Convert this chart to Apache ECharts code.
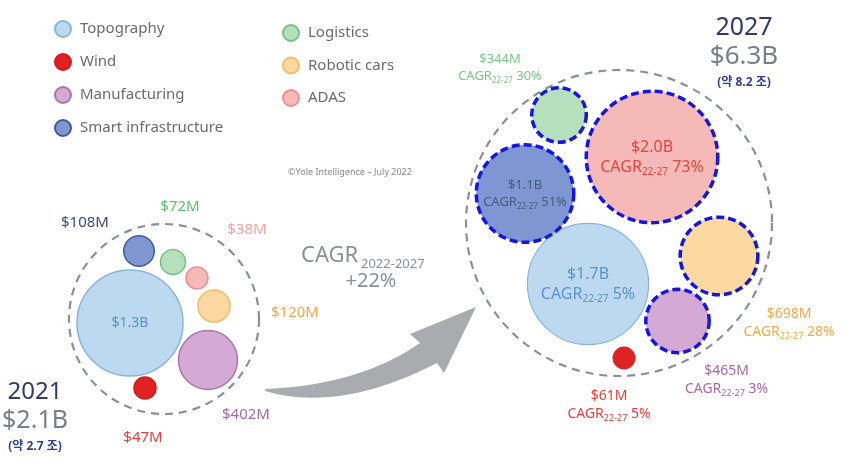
<!DOCTYPE html>
<html><head><meta charset="utf-8">
<script src="https://cdn.jsdelivr.net/npm/echarts@6/dist/echarts.min.js"></script>
<style>html,body{margin:0;padding:0;background:#fff}#c{width:849px;height:466px}</style>
</head><body><div id="c"></div><script>
// ---- data ----
const categories = ['Topography','Wind','Manufacturing','Smart infrastructure','Logistics','Robotic cars','ADAS'];
const years = ['2021','2027'];
const values2021 = [1300, 47, 402, 108, 72, 120, 38];      // $M
const values2027 = [1700, 61, 465, 1100, 344, 698, 2000];  // $M
const cagr2227 = [5, 5, 3, 51, 30, 28, 73];                // %
const totalsB = [2.1, 6.3];
const totalsKrwJo = [2.7, 8.2];
const cagrTotal = 22;
const cagrPeriod = '2022-2027';
const cagrSub = '22-27';
const sourceNote = '©Yole Intelligence – July 2022';

// packed-bubble layout (layout units)
const layoutX2021 = [13.0, 14.5, 20.8, 13.9, 17.3, 21.4, 19.7];
const layoutY2021 = [32.3, 38.8, 36.0, 25.1, 26.2, 30.6, 27.8];
const layoutX2027 = [58.8, 62.4, 67.75, 52.5, 55.9, 71.9, 65.2];
const layoutY2027 = [28.4, 35.8, 32.1, 19.35, 11.5, 25.6, 15.7];
const clusterX = [16.4, 61.9];
const clusterY = [31.9, 22.3];

// ---- styles ----
const FONT = "'Noto Sans','Noto Sans CJK KR',sans-serif";
const fills = ['#bdd9f0','#e02222','#d4a9d4','#7e97d2','#b6e0bc','#fcd9a1','#f5b9b8'];
const borders = ['#86b6df','#d81818','#ab76ab','#43599a','#74c382','#f5bb66','#ec8f8f'];
const textColors2021 = ['#5b93cb','#e2423f','#a46aab','#3c4a7c','#5cc06f','#f4aa45','#f4a3a1'];
const textColors2027 = ['#5b93cb','#e2423f','#a46aab','#4b587a','#79c888','#f4aa45','#e2463f'];
const labelOff2021 = [[0,0],[-2,50],[38,55],[-54,-28],[7,-55],[81,7],[50,-48]];
const labelOff2027 = [[0,0],[-15,47],[49,59],[0,0],[-59,-47],[70,67],[0,0]];
const labelSize2021 = [14,15,15,15,15,15,15];
const labelSize2027 = [16,14,14,13,13,14,16];
const dashed2027 = [false,false,true,true,true,true,true];
const clusterSizes = [190, 306];

function radius(v){ return Math.max(11, 1.47*Math.sqrt(v)); }
function fmt(v){ return v >= 1000 ? '$' + (v/1000).toFixed(1) + 'B' : '$' + v + 'M'; }

const series = categories.map((name, i) => {
  const fs = labelSize2027[i];
  const col = textColors2027[i];
  const rich = {
    v: {fontSize: fs, color: col, fontFamily: FONT, lineHeight: fs + 4, align: 'center'},
    c: {fontSize: fs, color: col, fontFamily: FONT, lineHeight: fs + 4},
    s: {fontSize: Math.round(fs*0.62), color: col, fontFamily: FONT, lineHeight: 5, verticalAlign: 'bottom'}
  };
  const item2027Style = dashed2027[i]
    ? {borderColor: '#1414e6', borderWidth: 3.5, borderType: [8, 4]}
    : {borderWidth: i === 0 ? 1.2 : 0};
  return {
    type: 'scatter', name, z: 3,
    symbol: 'circle',
    symbolSize: (val) => 2*radius(val[2]),
    itemStyle: {color: fills[i], borderColor: borders[i], borderWidth: 1.5, opacity: 1},
    emphasis: {disabled: true},
    data: [
      {
        value: [layoutX2021[i], layoutY2021[i], values2021[i]],
        label: {show: true, position: 'inside', offset: labelOff2021[i],
          formatter: fmt(values2021[i]), color: textColors2021[i], fontSize: labelSize2021[i], fontFamily: FONT}
      },
      {
        value: [layoutX2027[i], layoutY2027[i], values2027[i]],
        itemStyle: item2027Style,
        label: {show: true, position: 'inside', offset: labelOff2027[i], align: 'center',
          formatter: '{v|' + fmt(values2027[i]) + '}\n{c|CAGR}{s|' + cagrSub + '}{c| ' + cagr2227[i] + '%}',
          rich}
      }
    ]
  };
});

series.unshift({
  type: 'scatter', name: 'clusters', silent: true, z: 1,
  symbol: 'circle',
  itemStyle: {color: 'rgba(0,0,0,0)', borderColor: '#8b9096', borderWidth: 2.2, borderType: [8, 6], opacity: 1},
  data: clusterX.map((x, k) => ({value: [x, clusterY[k]], symbolSize: clusterSizes[k]}))
});

// arrow outline (decorative)
function qb(p0, c, p2, n){ const pts=[]; for(let k=0;k<=n;k++){const t=k/n,u=1-t; pts.push([u*u*p0[0]+2*u*t*c[0]+t*t*p2[0], u*u*p0[1]+2*u*t*c[1]+t*t*p2[1]]);} return pts; }
const arrowPts = [].concat(
  qb([265,389],[360,385],[420,343],20),
  [[410,334],[476,307],[444,373]],
  qb([437,363],[340,413],[265,391],20)
);

const totalCenters = [35, 744];
const totalTops = [392, 28];
const yearSizes = [24, 25];
const graphic = [
  {type: 'polygon', shape: {points: arrowPts}, style: {fill: '#a9abae'}, z: 0},
  {type: 'text', x: 350, y: 172, style: {text: sourceNote, fill: '#8a8a8a', fontSize: 9, fontFamily: FONT, align: 'center', verticalAlign: 'middle'}},
  {type: 'text', x: 301, y: 256, style: {text: 'CAGR', fill: '#8c9095', fontSize: 22, fontFamily: FONT, align: 'left', verticalAlign: 'middle'}},
  {type: 'text', x: 361, y: 264, style: {text: cagrPeriod, fill: '#8c9095', fontSize: 13, fontFamily: FONT, align: 'left', verticalAlign: 'middle'}},
  {type: 'text', x: 371, y: 281, style: {text: '+' + cagrTotal + '%', fill: '#8c9095', fontSize: 20, fontFamily: FONT, align: 'center', verticalAlign: 'middle'}}
];
years.forEach((y, k) => {
  const cx = totalCenters[k], ty = totalTops[k];
  graphic.push({type: 'text', x: cx, y: ty, style: {text: y, fill: '#2e3b6b', fontSize: yearSizes[k], fontFamily: FONT, align: 'center', verticalAlign: 'middle'}});
  graphic.push({type: 'text', x: cx, y: ty + 29, style: {text: '$' + totalsB[k].toFixed(1) + 'B', fill: '#7b7e82', fontSize: yearSizes[k] + 1, fontFamily: FONT, align: 'center', verticalAlign: 'middle'}});
  graphic.push({type: 'text', x: cx, y: ty + 55, style: {text: '(약 ' + totalsKrwJo[k].toFixed(1) + ' 조)', fill: '#2f3f8f', fontSize: 12, fontWeight: 'bold', fontFamily: FONT, align: 'center', verticalAlign: 'middle'}});
});

const legendCommon = {
  orient: 'vertical', padding: 0, icon: 'circle', itemWidth: 16, itemHeight: 16,
  selectedMode: false,
  textStyle: {color: '#6b6b6b', fontSize: 15, fontFamily: FONT, padding: [0, 0, 0, 4]}
};

const chart = echarts.init(document.getElementById('c'), null, {renderer: 'canvas'});
chart.setOption({
  animation: false,
  backgroundColor: '#ffffff',
  grid: {left: 0, right: 0, top: 0, bottom: 0},
  xAxis: {type: 'value', min: 0, max: 84.9, show: false},
  yAxis: {type: 'value', min: 0, max: 46.6, inverse: true, show: false},
  legend: [
    Object.assign({data: categories.slice(0, 4), left: 54, top: 20, itemGap: 15}, legendCommon),
    Object.assign({data: categories.slice(4), left: 282, top: 24, itemGap: 14.5}, legendCommon)
  ],
  tooltip: {show: false},
  graphic,
  series
});
</script></body></html>
